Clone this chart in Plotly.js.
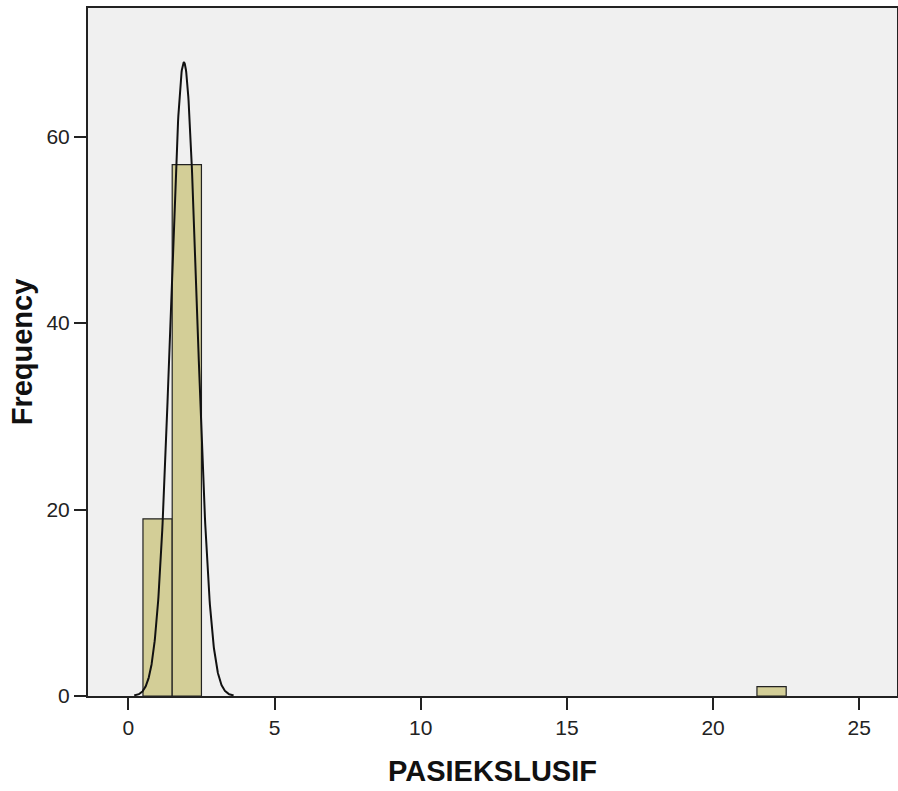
<!DOCTYPE html>
<html>
<head>
<meta charset="utf-8">
<script src="https://cdn.plot.ly/plotly-3.0.1.min.js"></script>
<style>html,body{margin:0;padding:0;background:#fff;}#chart{width:898px;height:791px;}</style>
</head>
<body>
<div id="chart"></div>
<script>
// Histogram bins (centers) and frequencies
var binCenters = [1, 2, 22];
var frequencies = [19, 57, 1];
var binWidth = 1;
// Normal curve parameters as drawn
var curveMean = 1.9;
var curveSD = 0.452;
var curveN = 77;
var xTicks = [0, 5, 10, 15, 20, 25];
var yTicks = [0, 20, 40, 60];

var cx = [], cy = [];
for (var i = 0; i <= 340; i++) {
  var x = 0.2 + i * 0.01;
  cx.push(x);
  cy.push(curveN * binWidth / (curveSD * Math.sqrt(2 * Math.PI)) * Math.exp(-0.5 * Math.pow((x - curveMean) / curveSD, 2)));
}

var data = [
  {type: 'bar', x: binCenters, y: frequencies, width: binWidth,
   marker: {color: '#d3ce97', line: {color: '#222', width: 1.2}}, hoverinfo: 'x+y'},
  {type: 'scatter', mode: 'lines', x: cx, y: cy,
   line: {color: '#111', width: 2}, hoverinfo: 'skip'}
];

var layout = {
  width: 898, height: 791,
  margin: {l: 88, r: 1, t: 8, b: 95},
  paper_bgcolor: '#ffffff',
  plot_bgcolor: '#f0f0f0',
  showlegend: false,
  bargap: 0,
  font: {family: 'Arial, Liberation Sans, sans-serif', color: '#222'},
  xaxis: {
    range: [-1.38, 26.29], tickvals: xTicks, ticktext: xTicks.map(String),
    ticks: 'outside', ticklen: 12, tickwidth: 2, tickcolor: '#222',
    showgrid: false, zeroline: false,
    showline: true, linecolor: '#222', linewidth: 2, mirror: true,
    tickfont: {size: 21, color: '#222'},
    title: {text: 'PASIEKSLUSIF', font: {size: 29, color: '#111', weight: 'bold'}, standoff: 22}
  },
  yaxis: {
    range: [0, 73.8], tickvals: yTicks, ticktext: yTicks.map(String),
    ticks: 'outside', ticklen: 12, tickwidth: 2, tickcolor: '#222',
    showgrid: false, zeroline: false,
    showline: true, linecolor: '#222', linewidth: 2, mirror: true,
    tickfont: {size: 21, color: '#222'},
    title: {text: 'Frequency', font: {size: 29, color: '#111', weight: 'bold'}, standoff: 5}
  }
};

Plotly.newPlot('chart', data, layout, {displayModeBar: false, staticPlot: true});
</script>
</body>
</html>
